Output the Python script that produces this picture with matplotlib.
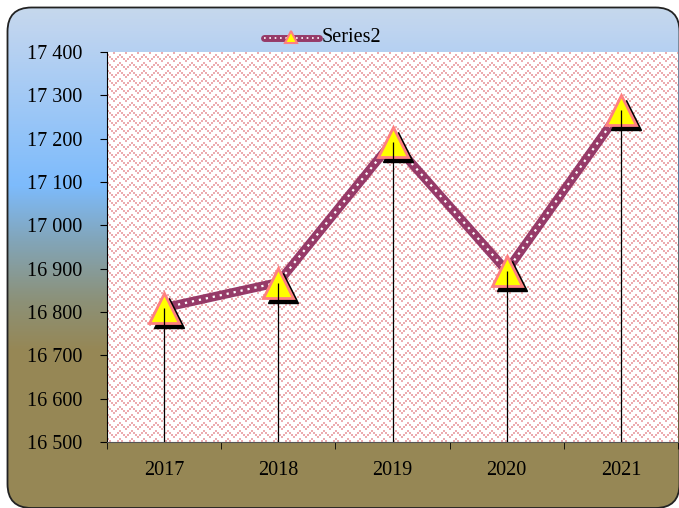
import matplotlib
matplotlib.use("Agg")
import matplotlib.pyplot as plt
import matplotlib.transforms as mtransforms
from matplotlib.patches import FancyBboxPatch
import numpy as np

years = ["2017", "2018", "2019", "2020", "2021"]
values = [16810, 16868, 17193, 16895, 17266]
series_name = "Series2"
y_ticks = [16500, 16600, 16700, 16800, 16900, 17000, 17100, 17200, 17300, 17400]

plt.rcParams['font.family'] = ['Liberation Serif', 'DejaVu Serif']

W, H = 679, 508
fig = plt.figure(figsize=(W / 100, H / 100), dpi=100)
fig.patch.set_facecolor("white")

# background gradient inside a rounded frame
bg = fig.add_axes([0, 0, 1, 1], zorder=-10)
bg.set_xlim(0, W)
bg.set_ylim(H, 0)
bg.axis("off")
stops_y = [7, 30, 185, 240, 300, 350, 508]
stops_c = np.array([(198, 216, 236), (190, 212, 240), (125, 187, 252),
                    (130, 165, 185), (140, 145, 120), (150, 135, 85),
                    (150, 135, 85)]) / 255.0
yy = np.arange(H)
grad = np.stack([np.interp(yy, stops_y, stops_c[:, k]) for k in range(3)], axis=1)
img = np.repeat(grad[:, None, :], W, axis=1)
im = bg.imshow(img, extent=(0, W, H, 0), aspect="auto", interpolation="bilinear")
frame = FancyBboxPatch((7.5, 7.5), 672, 500.5,
                       boxstyle="round,pad=0,rounding_size=24",
                       facecolor="none", edgecolor="#222222", linewidth=1.3)
bg.add_patch(frame)
im.set_clip_path(frame)

# plot area
left, right, top, bottom = 107, 678, 52, 442
ax = fig.add_axes([left / W, 1 - bottom / H, (right - left) / W, (bottom - top) / H])
ax.set_facecolor("none")

# zigzag pink texture for plot area
pw, ph = right - left, bottom - top
px, py = np.meshgrid(np.arange(pw), np.arange(ph))
bx, by = px // 2, py // 2
tri = np.abs((bx % 6) - 3)
mask = ((by + tri) % 4) == 0
tex = np.ones((ph, pw, 3))
tex[mask] = np.array([236, 172, 176]) / 255.0
ax.imshow(tex, extent=(-0.5, 4.5, 16500, 17400), aspect="auto",
          interpolation="none", zorder=0)

x = np.arange(len(years))
ax.plot(x, values, color="#963a68", linewidth=6.5, solid_capstyle="butt", zorder=3)
ax.plot(x, values, color="white", linewidth=1.6, linestyle=(0, (1, 2.2)), zorder=4)

shadow = mtransforms.offset_copy(ax.transData, fig=fig, x=5, y=-5, units="dots")
ax.plot(x, values, linestyle="none", marker="^", markersize=21,
        color="black", transform=shadow, zorder=5)
ax.plot(x, values, linestyle="none", marker="^", markersize=21,
        markerfacecolor="#ffff00", markeredgecolor="#ff8080",
        markeredgewidth=2, zorder=6)
ax.vlines(x, 16500, values, color="black", linewidth=0.9, zorder=7)

ax.set_xlim(-0.5, 4.5)
ax.set_ylim(16500, 17400)
ax.set_yticks(y_ticks)
ax.set_yticklabels([f"{v:,}".replace(",", " ") for v in y_ticks], fontsize=14.5)
ax.set_xticks(x)
ax.set_xticklabels(years, fontsize=14.5)
ax.set_xticks(np.arange(-0.5, 5.0, 1.0), minor=True)
ax.tick_params(axis="x", which="major", length=0, pad=14)
ax.tick_params(axis="x", which="minor", length=5, direction="out", color="black")
ax.tick_params(axis="y", length=5, direction="out", pad=13, color="black")
for s in ["top", "right"]:
    ax.spines[s].set_visible(False)
ax.spines["left"].set_color("black")
ax.spines["bottom"].set_color("#555555")

# legend at top
lax = fig.add_axes([0, 0, 1, 1], zorder=10)
lax.set_xlim(0, W)
lax.set_ylim(H, 0)
lax.axis("off")
lx = [264, 319]
ly = [38, 38]
lax.plot(lx, ly, color="#963a68", linewidth=5, solid_capstyle="round")
lax.plot(lx, ly, color="white", linewidth=1.2, linestyle=(0, (1, 2.2)))
lax.plot([291], [37], marker="^", markersize=9, markerfacecolor="#ffff00",
         markeredgecolor="#ff8080", markeredgewidth=1.5, linestyle="none")
lax.text(322, 38, series_name, fontsize=14.5, va="center", ha="left")

fig.savefig("out.png", dpi=100)
